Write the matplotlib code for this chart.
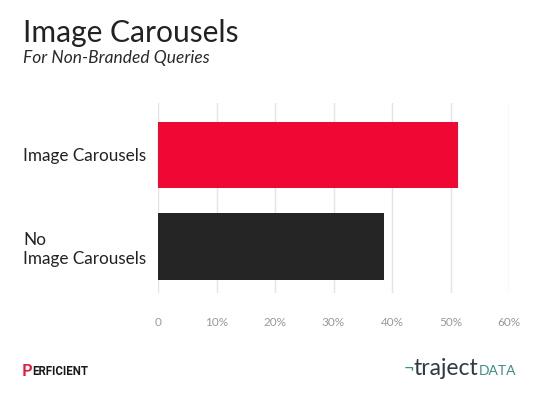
import matplotlib.pyplot as plt

plt.rcParams['font.family'] = ['Lato', 'DejaVu Sans']

# Share of non-branded queries
categories = ["Image Carousels", "No\nImage Carousels"]
values = [51.3, 38.7]
bar_colors = ["#ee0833", "#252525"]
ticks = [0, 10, 20, 30, 40, 50, 60]
tick_labels = ["0", "10%", "20%", "30%", "40%", "50%", "60%"]

fig = plt.figure(figsize=(5.4, 3.94), dpi=100)
ax = fig.add_axes([158 / 540, 1 - 293 / 394, 351 / 540, 190 / 394])

ypos = [0, 1]
ax.barh(ypos, values, height=0.727, color=bar_colors, zorder=2)
ax.set_ylim(1.505, -0.567)
ax.set_xlim(0, 60)

ax.set_xticks(ticks)
ax.set_xticklabels(tick_labels, color="#999999", fontsize=8.5)
ax.set_yticks(ypos)
ax.set_yticklabels(categories, fontsize=12.3, color="#222222", ha="left",
                   linespacing=1.25)
# 135 px from the axes edge to the label's left side
ax.tick_params(axis="y", length=0, pad=135 * 0.72)
ax.tick_params(axis="x", length=0, pad=17)
ax.grid(axis="x", color="#e4e4e4", linewidth=1, zorder=0)
for s in ax.spines.values():
    s.set_visible(False)

# Heading
fig.text(23 / 540, 1 - 42 / 394, "Image Carousels", fontsize=21.6, color="#222222")
fig.text(23 / 540, 1 - 63 / 394, "For Non-Branded Queries", fontsize=12.5,
         style="italic", color="#2a2a2a")

# Footer logos as text
fig.text(22 / 540, 1 - 376 / 394, "P", fontsize=12, weight="bold", color="#e21b3c")
fig.text(32 / 540, 1 - 375 / 394, "ERFICIENT", fontsize=8.3, weight="bold",
         color="#1a1a1a", family=["Roboto", "DejaVu Sans"])
fig.text(404 / 540, 1 - 372 / 394, "¬", fontsize=13, color="#3a8f86")
fig.text(414 / 540, 1 - 375 / 394, "traject", fontsize=16.5, color="#2e3b43")
fig.text(479 / 540, 1 - 375 / 394, "DATA", fontsize=10, color="#3a8f86")

fig.savefig("out.png", dpi=100)
